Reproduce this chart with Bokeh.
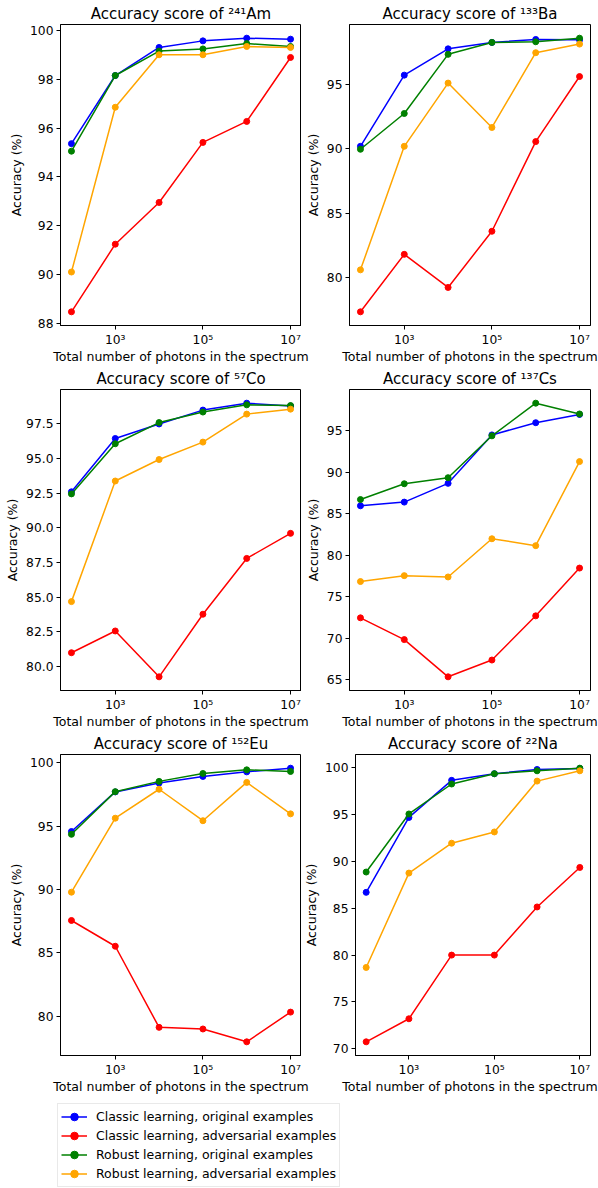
from bokeh.plotting import figure
from bokeh.layouts import column, row
from bokeh.models import Range1d, FixedTicker, NumeralTickFormatter, Legend, LegendItem
from bokeh.core.properties import value
from bokeh.embed import file_html
from bokeh.resources import INLINE

# ---------------- data ----------------
photons = [1e2, 1e3, 1e4, 1e5, 1e6, 1e7]

series_names = [
    "Classic learning, original examples",
    "Classic learning, adversarial examples",
    "Robust learning, original examples",
    "Robust learning, adversarial examples",
]
series_colors = ["blue", "red", "green", "orange"]

am_classic_orig = [95.36, 98.15, 99.30, 99.57, 99.68, 99.64]
am_classic_adv = [88.47, 91.24, 92.95, 95.41, 96.27, 98.89]
am_robust_orig = [95.05, 98.15, 99.15, 99.24, 99.46, 99.34]
am_robust_adv = [90.10, 96.85, 99.00, 99.00, 99.34, 99.30]

ba_classic_orig = [90.20, 95.75, 97.80, 98.30, 98.53, 98.50]
ba_classic_adv = [77.30, 81.78, 79.20, 83.58, 90.57, 95.64]
ba_robust_orig = [89.97, 92.76, 97.37, 98.30, 98.35, 98.63]
ba_robust_adv = [80.57, 90.20, 95.13, 91.67, 97.50, 98.17]

co_classic_orig = [92.60, 96.45, 97.50, 98.50, 99.00, 98.79]
co_classic_adv = [80.98, 82.55, 79.24, 83.76, 87.79, 89.60]
co_robust_orig = [92.45, 96.07, 97.60, 98.36, 98.88, 98.83]
co_robust_adv = [84.67, 93.38, 94.93, 96.19, 98.21, 98.57]

cs_classic_orig = [85.95, 86.39, 88.65, 94.48, 95.95, 96.94]
cs_classic_adv = [72.46, 69.84, 65.36, 67.38, 72.70, 78.45]
cs_robust_orig = [86.70, 88.60, 89.33, 94.37, 98.30, 97.00]
cs_robust_adv = [76.83, 77.54, 77.38, 81.98, 81.15, 91.27]

eu_classic_orig = [94.57, 97.69, 98.39, 98.91, 99.27, 99.56]
eu_classic_adv = [87.56, 85.53, 79.14, 79.01, 78.00, 80.34]
eu_robust_orig = [94.35, 97.71, 98.52, 99.14, 99.43, 99.30]
eu_robust_adv = [89.79, 95.62, 97.90, 95.42, 98.44, 95.96]

na_classic_orig = [86.70, 94.70, 98.66, 99.37, 99.82, 99.93]
na_classic_adv = [70.74, 73.20, 80.00, 80.00, 85.14, 89.36]
na_robust_orig = [88.87, 95.07, 98.27, 99.37, 99.68, 99.96]
na_robust_adv = [78.68, 88.76, 91.95, 93.15, 98.58, 99.68]

titles = ["Accuracy score of ²⁴¹Am", "Accuracy score of ¹³³Ba",
          "Accuracy score of ⁵⁷Co", "Accuracy score of ¹³⁷Cs",
          "Accuracy score of ¹⁵²Eu", "Accuracy score of ²²Na"]

y_ticks = [
    [88, 90, 92, 94, 96, 98, 100],
    [80, 85, 90, 95],
    [80.0, 82.5, 85.0, 87.5, 90.0, 92.5, 95.0, 97.5],
    [65, 70, 75, 80, 85, 90, 95],
    [80, 85, 90, 95, 100],
    [70, 75, 80, 85, 90, 95, 100],
]
x_ticks = [1e3, 1e5, 1e7]
x_tick_labels = ["10³", "10⁵", "10⁷"]
x_label = "Total number of photons in the spectrum"
y_label = "Accuracy (%)"

panels = [
    [am_classic_orig, am_classic_adv, am_robust_orig, am_robust_adv],
    [ba_classic_orig, ba_classic_adv, ba_robust_orig, ba_robust_adv],
    [co_classic_orig, co_classic_adv, co_robust_orig, co_robust_adv],
    [cs_classic_orig, cs_classic_adv, cs_robust_orig, cs_robust_adv],
    [eu_classic_orig, eu_classic_adv, eu_robust_orig, eu_robust_adv],
    [na_classic_orig, na_classic_adv, na_robust_orig, na_robust_adv],
]

FONT = "DejaVu Sans"
TICK_FS = "12.3px"
LABEL_FS = "12.5px"
TITLE_FS = "15px"

TOTAL_W = 598
LEFT_BL, LEFT_PW, LEFT_BR = 60, 241, 0
RIGHT_BL, RIGHT_PW, RIGHT_BR = 48, 241, 8
TOP_B, PLOT_H, BOT_B = 23, 304, 22
STRIP_H = 16


def make_panel(i):
    left_col = (i % 2 == 0)
    data = panels[i]
    lo = min(min(s) for s in data)
    hi = max(max(s) for s in data)
    pad = 0.05 * (hi - lo)
    if left_col:
        bl, pw, br = LEFT_BL, LEFT_PW, LEFT_BR
    else:
        bl, pw, br = RIGHT_BL, RIGHT_PW, RIGHT_BR
    p = figure(width=bl + pw + br, height=TOP_B + PLOT_H + BOT_B,
               x_axis_type="log",
               x_range=Range1d(10 ** 1.75, 10 ** 7.25),
               y_range=Range1d(lo - pad, hi + pad),
               output_backend="svg", toolbar_location=None,
               min_border_left=bl, min_border_right=br,
               min_border_top=TOP_B, min_border_bottom=BOT_B)
    p.title.text = titles[i]
    p.title.text_font = FONT
    p.title.text_font_size = TITLE_FS
    p.title.text_font_style = "normal"
    p.title.align = "center"
    p.title.standoff = 4
    p.title.text_color = "black"
    p.grid.visible = False
    p.outline_line_color = "black"
    p.outline_line_width = 1
    p.background_fill_color = "white"
    p.border_fill_color = "white"

    for s, c in zip(data, series_colors):
        p.line(photons, s, line_color=c, line_width=1.5)
        p.scatter(photons, s, size=6, fill_color=c, line_color=c)

    xa = p.xaxis[0]
    xa.ticker = FixedTicker(ticks=x_ticks, minor_ticks=[])
    xa.major_label_overrides = {t: l for t, l in zip(x_ticks, x_tick_labels)}

    ya = p.yaxis[0]
    ya.ticker = FixedTicker(ticks=y_ticks[i], minor_ticks=[])
    if i == 2:
        ya.formatter = NumeralTickFormatter(format="0.0")
    ya.axis_label = y_label

    for ax in (xa, ya):
        ax.axis_line_color = "black"
        ax.major_tick_line_color = "black"
        ax.major_tick_out = 4
        ax.major_tick_in = 0
        ax.minor_tick_out = 0
        ax.minor_tick_in = 0
        ax.major_label_standoff = 3
        ax.axis_label_standoff = 3
        ax.major_label_text_font = FONT
        ax.major_label_text_font_size = TICK_FS
        ax.major_label_text_color = "black"
        ax.axis_label_text_font = FONT
        ax.axis_label_text_font_size = LABEL_FS
        ax.axis_label_text_font_style = "normal"
        ax.axis_label_text_color = "black"
    return p


def make_strip():
    # x-axis titles, centred under each plot frame (they are wider than a column)
    s = figure(width=TOTAL_W, height=STRIP_H,
               x_range=Range1d(0, TOTAL_W), y_range=Range1d(0, STRIP_H),
               output_backend="svg", toolbar_location=None,
               min_border=0, min_border_left=0, min_border_right=0,
               min_border_top=0, min_border_bottom=0)
    s.axis.visible = False
    s.grid.visible = False
    s.outline_line_color = None
    cx_left = LEFT_BL + LEFT_PW / 2
    cx_right = LEFT_BL + LEFT_PW + LEFT_BR + RIGHT_BL + RIGHT_PW / 2
    s.text(x=[cx_left, cx_right], y=[STRIP_H / 2 + 1, STRIP_H / 2 + 1],
           text=[x_label, x_label],
           text_font=value(FONT), text_font_size="12.5px",
           text_align="center", text_baseline="middle", text_color="black")
    return s


figs = [make_panel(i) for i in range(6)]

# legend figure
LEG_H = 1188 - 3 * (TOP_B + PLOT_H + BOT_B + STRIP_H)
lf = figure(width=TOTAL_W, height=LEG_H, x_range=Range1d(0, 1), y_range=Range1d(0, 1),
            output_backend="svg", toolbar_location=None,
            min_border=0, min_border_left=0, min_border_right=0,
            min_border_top=0, min_border_bottom=0)
lf.axis.visible = False
lf.grid.visible = False
lf.outline_line_color = None
items = []
for name, c in zip(series_names, series_colors):
    r1 = lf.line([-10, -9], [-10, -9], line_color=c, line_width=1.5)
    r2 = lf.scatter([-10], [-10], size=6, fill_color=c, line_color=c)
    items.append(LegendItem(label=name, renderers=[r1, r2]))
leg = Legend(items=items, location=(57, 1))
leg.label_text_font = FONT
leg.label_text_font_size = "12.5px"
leg.label_text_color = "black"
leg.glyph_width = 26
leg.glyph_height = 19
leg.label_height = 19
leg.label_standoff = 9
leg.spacing = 0
leg.padding = 3
leg.margin = 0
leg.border_line_color = "#d3d3d3"
leg.border_line_width = 1
leg.background_fill_color = "white"
leg.background_fill_alpha = 1.0
lf.add_layout(leg, "center")

layout = column(row(figs[0], figs[1]), make_strip(),
                row(figs[2], figs[3]), make_strip(),
                row(figs[4], figs[5]), make_strip(),
                lf)

open("out.html", "w").write(file_html(layout, INLINE))
